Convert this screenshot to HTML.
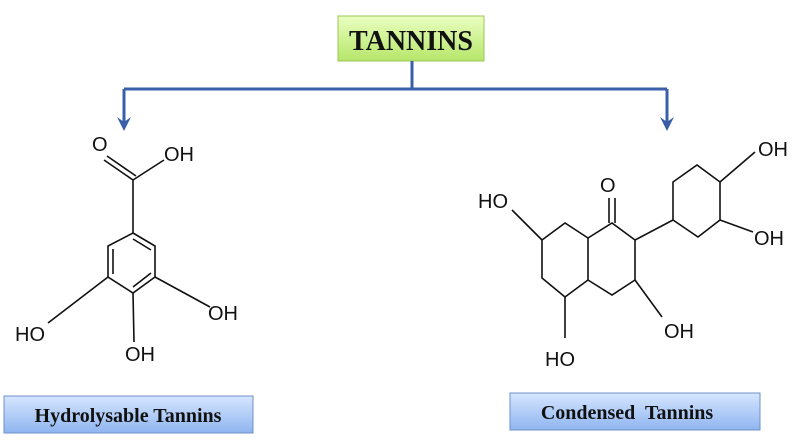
<!DOCTYPE html>
<html><head><meta charset="utf-8"><style>
html,body{margin:0;padding:0;background:#fff;width:800px;height:443px;overflow:hidden}
</style></head><body>
<svg width="800" height="443" viewBox="0 0 800 443" xmlns="http://www.w3.org/2000/svg">
<defs>
<linearGradient id="g1" x1="0" y1="0" x2="0" y2="1"><stop offset="0" stop-color="#eaffc0"/><stop offset="1" stop-color="#b6e66a"/></linearGradient>
<linearGradient id="g2" x1="0" y1="0" x2="0" y2="1"><stop offset="0" stop-color="#d6e6ff"/><stop offset="1" stop-color="#8fb5f0"/></linearGradient>
</defs>
<rect x="338" y="16" width="146" height="45" fill="url(#g1)" stroke="#9cc45a" stroke-width="1"/>
<text x="411" y="50" font-family="Liberation Serif, serif" font-weight="bold" font-size="28" text-anchor="middle" fill="#111">TANNINS</text>
<g stroke="#3a5fa8" stroke-width="3" fill="none">
<path d="M412 61 V89 M124 89 H667 M124 89 V124 M667 89 V124"/>
</g>
<path d="M117 117 L124 131 L131 117 L124 122Z M660 117 L667 131 L674 117 L667 122Z" fill="#3a5fa8"/>
<g stroke="#111" stroke-width="1.6" fill="none">
<path d="M133 233 L155 246 L155 277 L133 293 L108 277 L108 246 Z"/>
<path d="M113 249 L113 274 M151 250 L133 239 M151 273 L133 287"/>
<path d="M133 233 L133 180 M133 180 L104 160 M136 176 L107 156 M133 180 L164 160"/>
<path d="M155 277 L210 307 M108 277 L48 323 M133 293 L134 342"/>
<path d="M565 223 L542 240 L542 278 L565 297 L588 280 L588 238 Z"/>
<path d="M588 238 L612 223 L635 240 L635 280 L612 295 L588 280"/>
<path d="M609 223 V198 M615 223 V198"/>
<path d="M542 240 L512 210 M565 297 V338 M635 280 L662 317"/>
<path d="M635 240 L673 220"/>
<path d="M673 220 L698 237 L720 220 L720 182 L697 165 L673 182 Z"/>
<path d="M720 182 L755 152 M720 220 L753 232"/>
</g>
<g font-family="Liberation Sans, sans-serif" font-size="20" fill="#111">
<text x="92" y="151">O</text>
<text x="164" y="161">OH</text>
<text x="208" y="320">OH</text>
<text x="15" y="341">HO</text>
<text x="125" y="361">OH</text>
<text x="600" y="192">O</text>
<text x="478" y="208">HO</text>
<text x="545" y="366">HO</text>
<text x="664" y="338">OH</text>
<text x="758" y="156">OH</text>
<text x="754" y="245">OH</text>
</g>
<rect x="4" y="396" width="249" height="37" fill="url(#g2)" stroke="#6f90c8"/>
<text x="128" y="422" font-family="Liberation Serif, serif" font-weight="bold" font-size="20" text-anchor="middle" fill="#111">Hydrolysable Tannins</text>
<rect x="510" y="393" width="250" height="37" fill="url(#g2)" stroke="#6f90c8"/>
<text x="627" y="419" font-family="Liberation Serif, serif" font-weight="bold" font-size="20" text-anchor="middle" fill="#111" xml:space="preserve">Condensed  Tannins</text>
</svg>
</body></html>
